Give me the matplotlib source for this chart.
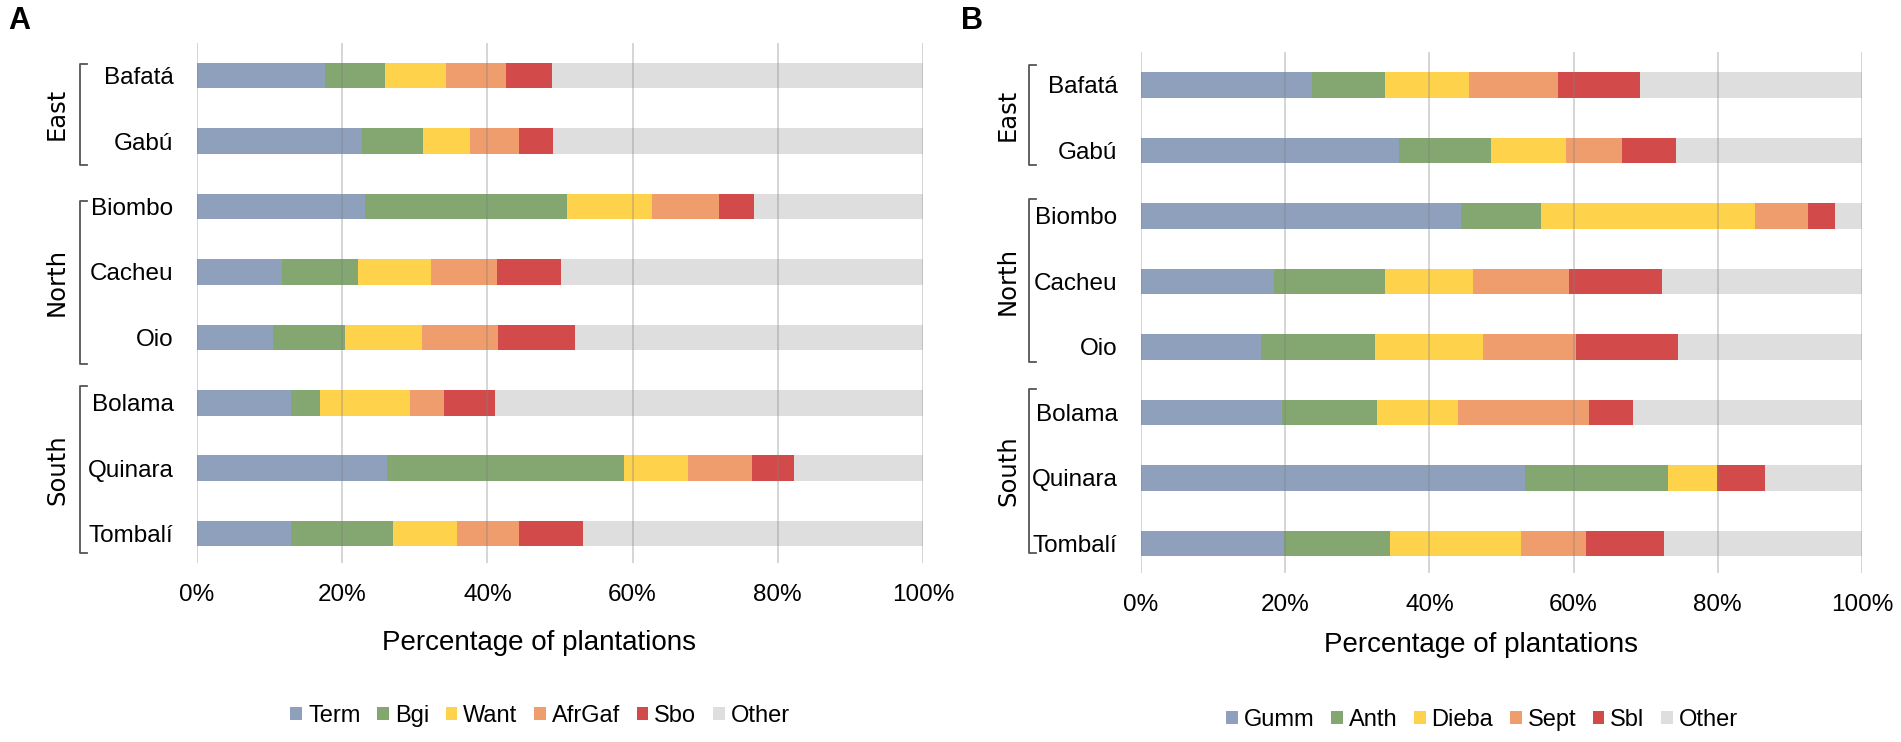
import matplotlib
matplotlib.use("Agg")
import matplotlib.pyplot as plt
from matplotlib.patches import Patch

plt.rcParams['font.family'] = ['Liberation Sans', 'DejaVu Sans']

# regions top to bottom, grouped by zone
regions = ["Bafatá", "Gabú", "Biombo", "Cacheu", "Oio", "Bolama", "Quinara", "Tombalí"]
zones = [("East", 0, 1), ("North", 2, 4), ("South", 5, 7)]

# Panel A - % of plantations per species
labels_a = ["Term", "Bgi", "Want", "AfrGaf", "Sbo", "Other"]
term = [17.6, 22.7, 23.1, 11.7, 10.4, 12.9, 26.2, 12.9]
bgi = [8.3, 8.4, 27.9, 10.5, 10.0, 4.0, 32.6, 14.1]
want = [8.4, 6.5, 11.7, 10.0, 10.6, 12.5, 8.8, 8.8]
afrgaf = [8.3, 6.7, 9.2, 9.1, 10.4, 4.6, 8.8, 8.6]
sbo = [6.3, 4.7, 4.8, 8.8, 10.6, 7.1, 5.9, 8.7]
other_a = [51.1, 51.0, 23.3, 49.9, 48.0, 58.9, 17.7, 46.9]

# Panel B
labels_b = ["Gumm", "Anth", "Dieba", "Sept", "Sbl", "Other"]
gumm = [23.7, 35.8, 44.4, 18.4, 16.7, 19.5, 53.3, 19.9]
anth = [10.2, 12.8, 11.1, 15.4, 15.7, 13.3, 19.8, 14.6]
dieba = [11.6, 10.3, 29.6, 12.2, 15.0, 11.1, 6.8, 18.2]
sept = [12.4, 7.8, 7.4, 13.4, 13.0, 18.3, 0.0, 9.0]
sbl = [11.3, 7.5, 3.8, 12.9, 14.1, 6.0, 6.7, 10.9]
other_b = [30.8, 25.8, 3.7, 27.7, 25.5, 31.8, 13.4, 27.4]

colors = ["#8FA0BC", "#84A670", "#FED24A", "#F09D6E", "#D34A4A", "#DEDEDE"]

W, H = 1901, 742
fig = plt.figure(figsize=(W / 100, H / 100), dpi=100)


def px_axes(left, top, right, bottom):
    return fig.add_axes([left / W, 1 - bottom / H, (right - left) / W, (bottom - top) / H])


def draw_panel(ax, series, names, brackets, brk_x, lab_x):
    left = [0.0] * len(regions)
    for vals, c in zip(series, colors):
        ax.barh(range(len(regions)), vals, left=left, height=0.39, color=c, zorder=2)
        left = [l + v for l, v in zip(left, vals)]
    ax.set_xlim(0, 100)
    ax.set_ylim(7.45, -0.5)
    for x in range(0, 101, 20):
        ax.axvline(x, color="gray", alpha=0.35, lw=1.3, zorder=3)
    ax.set_xticks(range(0, 101, 20))
    ax.set_xticklabels([f"{x}%" for x in range(0, 101, 20)], fontsize=17.5)
    ax.set_yticks(range(len(regions)))
    ax.set_yticklabels(regions, fontsize=17.5)
    ax.tick_params(axis="y", length=0, pad=17)
    ax.tick_params(axis="x", length=0, pad=15)
    for s in ax.spines.values():
        s.set_visible(False)
    # zone brackets
    tr = ax.get_yaxis_transform()
    for (zname, i0, i1), (y0, y1) in zip(zones, brackets):
        ax.plot([brk_x + 0.009, brk_x, brk_x, brk_x + 0.009], [y0, y0, y1, y1],
                color="#555555", lw=1.3, transform=tr, clip_on=False)
        ax.text(lab_x, (y0 + y1) / 2, zname, transform=tr, rotation=90,
                ha="center", va="center", fontsize=17.5, family="DejaVu Sans")
    handles = [Patch(facecolor=c, label=n) for c, n in zip(colors, names)]
    return handles


ax_a = px_axes(197, 43, 923, 563)
h_a = draw_panel(ax_a, [term, bgi, want, afrgaf, sbo, other_a], labels_a,
                 [(-0.18, 1.36), (1.91, 4.40), (4.75, 7.29)], -0.161, -0.193)
ax_b = px_axes(1141, 52, 1862, 573)
h_b = draw_panel(ax_b, [gumm, anth, dieba, sept, sbl, other_b], labels_b,
                 [(-0.30, 1.22), (1.75, 4.23), (4.64, 7.14)], -0.155, -0.1845)

fig.text(539 / W, 1 - 643 / H, "Percentage of plantations", ha="center", va="center", fontsize=20)
fig.text(1481 / W, 1 - 645 / H, "Percentage of plantations", ha="center", va="center", fontsize=20)

leg_kw = dict(ncol=6, frameon=False, fontsize=17, handlelength=0.5, handleheight=0.5,
              handletextpad=0.25, columnspacing=0.7, loc="center")
fig.legend(handles=h_a, bbox_to_anchor=(540 / W, 1 - 716 / H), **leg_kw)
fig.legend(handles=h_b, bbox_to_anchor=(1482 / W, 1 - 720 / H), **leg_kw)

fig.text(19 / W, 1 - 21 / H, "A", ha="center", va="center", fontsize=22, fontweight="bold")
fig.text(972 / W, 1 - 21 / H, "B", ha="center", va="center", fontsize=22, fontweight="bold")

fig.savefig("out.png", dpi=100)
